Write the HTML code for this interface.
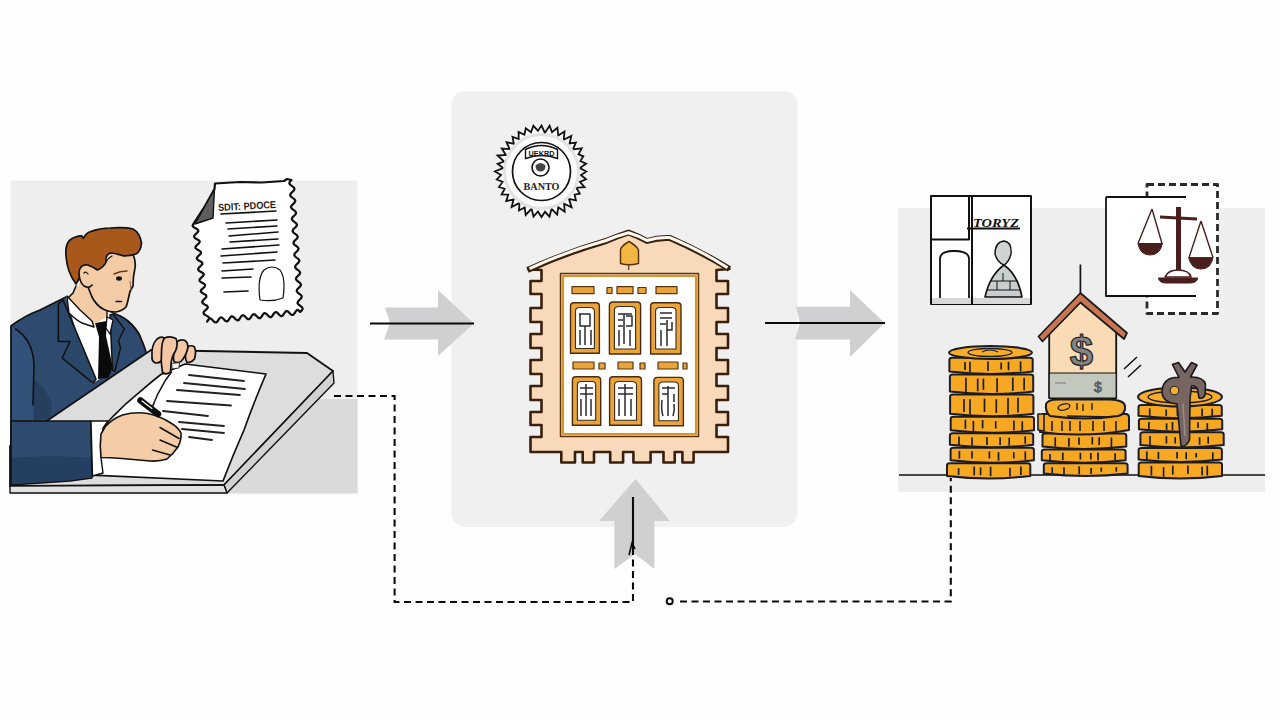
<!DOCTYPE html>
<html><head><meta charset="utf-8">
<style>
html,body{margin:0;padding:0;background:#fff;width:1280px;height:720px;overflow:hidden;font-family:"Liberation Sans",sans-serif;}
svg{display:block;position:absolute;left:0;top:0}
</style></head><body>
<svg width="1280" height="720" viewBox="0 0 1280 720">
<rect x="0" y="0" width="1280" height="720" fill="#fefefe"/>
<!-- panels -->
<rect x="10.5" y="180.5" width="347" height="314" fill="#eeeeee"/>
<rect x="451.5" y="91" width="346" height="436" rx="14" fill="#f0f0f0"/>
<rect x="898" y="208" width="367" height="284" fill="#eeeeee"/>

<!-- ============ LEFT PANEL ============ -->
<g id="left" stroke-linejoin="round" stroke-linecap="round">
  <!-- darker box right of board -->
  <polygon points="315,399 357.5,399 357.5,493 224,493" fill="#dadada"/>
  <!-- certificate -->
  <g stroke="#111" stroke-width="2.2" fill="#fff">
    <path id="cert" d="M215.0,183.5 L240.0,182.0 L262.0,182.5 L284.0,181.0 L287.0,179.0 L291.5,180.0 L289.9,181.6 L289.3,183.2 L290.1,184.6 L291.9,186.0 L293.7,187.4 L294.5,188.8 L293.9,190.4 L292.3,192.0 L290.7,193.6 L290.1,195.2 L291.0,196.6 L292.8,198.0 L294.6,199.4 L295.3,200.8 L294.7,202.4 L293.1,204.0 L291.5,205.6 L290.9,207.2 L291.8,208.6 L293.6,210.0 L295.4,211.4 L296.1,212.8 L295.5,214.4 L293.8,216.0 L292.3,217.6 L291.8,219.2 L292.7,220.6 L294.5,222.0 L296.2,223.4 L297.0,224.8 L296.3,226.4 L294.6,228.0 L293.1,229.6 L292.6,231.2 L293.5,232.6 L295.3,234.0 L297.1,235.4 L297.8,236.8 L297.1,238.4 L295.4,240.0 L293.9,241.6 L293.4,243.2 L294.3,244.6 L296.2,246.0 L297.9,247.4 L298.6,248.8 L297.8,250.4 L296.2,252.0 L294.7,253.6 L294.2,255.2 L295.2,256.6 L297.0,258.0 L298.8,259.4 L299.4,260.8 L298.6,262.4 L297.0,264.0 L295.5,265.6 L295.1,267.2 L296.0,268.6 L297.9,270.0 L299.6,271.4 L300.2,272.8 L299.4,274.4 L297.8,276.0 L296.3,277.6 L295.9,279.2 L296.9,280.6 L298.8,282.0 L300.4,283.4 L301.0,284.8 L300.2,286.4 L298.6,288.0 L297.1,289.6 L296.7,291.2 L297.7,292.6 L299.6,294.0 L301.3,295.4 L301.8,296.8 L301.0,298.4 L299.3,300.0 L297.9,301.6 L297.5,303.2 L298.6,304.6 L300.5,306.0 L302.1,307.4 L302.7,308.8 L301.8,310.4 L300.1,312.0 L298.8,310.3 L297.3,309.9 L295.9,311.2 L294.5,313.3 L293.2,314.9 L291.7,315.0 L290.0,313.6 L288.3,311.7 L286.7,310.9 L285.3,311.8 L283.9,313.8 L282.6,315.7 L281.1,316.2 L279.5,315.1 L277.8,313.2 L276.2,312.0 L274.7,312.5 L273.3,314.3 L272.0,316.4 L270.6,317.3 L269.0,316.5 L267.3,314.7 L265.6,313.3 L264.1,313.2 L262.7,314.8 L261.4,316.9 L260.0,318.3 L258.5,317.9 L256.8,316.3 L255.1,314.6 L253.5,314.1 L252.1,315.3 L250.8,317.5 L249.4,319.1 L247.9,319.2 L246.3,317.8 L244.6,316.0 L243.0,315.1 L241.5,315.9 L240.2,317.9 L238.9,319.9 L237.4,320.4 L235.8,319.4 L234.1,317.5 L232.4,316.3 L230.9,316.6 L229.6,318.4 L228.3,320.5 L226.8,321.5 L225.2,320.8 L223.6,319.0 L221.9,317.5 L220.4,317.4 L219.0,318.9 L217.7,321.1 L216.3,322.5 L214.7,322.2 L213.0,320.6 L211.4,318.9 L209.8,318.3 L208.4,319.5 L207.1,321.6 L208.8,319.3 L209.2,317.7 L207.8,316.4 L205.5,315.1 L203.7,313.8 L203.6,312.3 L205.0,310.6 L207.0,308.9 L207.9,307.3 L207.1,305.8 L204.9,304.6 L202.8,303.3 L202.1,301.9 L203.1,300.3 L205.0,298.5 L206.4,296.8 L206.2,295.3 L204.3,294.1 L202.0,292.8 L200.7,291.5 L201.2,289.9 L203.1,288.2 L204.8,286.4 L205.1,284.9 L203.7,283.5 L201.3,282.3 L199.6,281.0 L199.6,279.5 L201.1,277.8 L203.0,276.0 L203.8,274.4 L202.9,273.0 L200.7,271.8 L198.7,270.5 L198.0,269.1 L199.1,267.4 L201.1,265.7 L202.4,264.0 L202.1,262.5 L200.1,261.2 L197.9,260.0 L196.7,258.6 L197.3,257.1 L199.1,255.3 L200.8,253.6 L201.0,252.0 L199.5,250.7 L197.2,249.5 L195.5,248.2 L195.5,246.7 L197.1,244.9 L199.0,243.2 L199.8,241.6 L198.8,240.2 L196.5,239.0 L194.5,237.7 L194.0,236.2 L195.2,234.6 L197.1,232.8 L198.4,231.2 L197.9,229.7 L196.0,228.4 L193.7,227.2 L192.6,225.8 L193.3,224.2 L205.0,206.0 L214.5,189.0 L215.0,183.5Z"/>
    <path d="M195,224 L205,206 L214.5,189 L213,218 Z" fill="#5e5e5e" stroke-width="1.4"/>
  </g>
  <g stroke="#111" stroke-width="1.6" fill="none">
    <path d="M221,214 L276,211 M226,223 L277,220 M228,229 L277,226 M229,236 L278,232 M230,242 L278,239 M222,249 L279,245 M221,256 L277,252 M223,263 L275,260 M222,271 L253,269 M222,278 L251,277 M224,292 L248,291"/>
    <path d="M260,300 q-3,-22 4,-30 q8,-6 16,0 q6,8 3,28 q-10,4 -23,2 Z" fill="#fff" stroke-width="1.2"/>
  </g>
  <text x="218" y="209.5" font-family="Liberation Sans" font-weight="bold" font-size="10" textLength="58" lengthAdjust="spacingAndGlyphs" fill="#2a1a14" transform="rotate(-3 246 205)">SDIT: PDOCE</text>

  <!-- suit body -->
  <path d="M11,326 Q24,316 40,310 Q52,304 66,297 L113,313 Q122,316 128,321 Q136,328 140,336 Q144,345 146,352 L152,368 L152,420 L11,486 Z" fill="#2e4b6f" stroke="#111" stroke-width="1.8"/>
  <path d="M12,327 L15.5,329 Q33,340 34,365 L33,420 L12,420 Z" fill="#33527a"/><path d="M34,380 Q45,385 52,405 L50,418 L34,420 Z" fill="#263f5e"/><path d="M15.5,329 Q33,340 34,365 L33,405" fill="none" stroke="#111" stroke-width="1.6"/>
  <!-- shirt -->
  <path d="M66,297 L113,313 L113,370 L92,384 Z" fill="#fff"/>
  <!-- lapels -->
  <path d="M63,300 L58.3,304 L58.3,341.5 L70,341.5 L62.2,358 L93.3,383.3 L96,379 Z" fill="#2b4769" stroke="#111" stroke-width="1.6"/>
  <path d="M110,315 L113,314 L124.4,328.9 L118.6,340.5 L120.5,348.3 L114.7,371.6 L112.5,370 Z" fill="#2b4769" stroke="#111" stroke-width="1.5"/>
  <!-- tie -->
  <path d="M95,323 L107,321 L106,336 L113,368 L108,378 L98,379 L99,337 Z" fill="#0b0b0b"/>
  <!-- neck & face -->
  <path d="M80,283 L73,293 L68,298 L82,312 L94,324 L107,317 L107,311 Q112,312 118,312 Q125,310 127,306 L128.5,298 L130,292 Q132,288 133,286 L133.5,276 L135,267 L133.3,255 L110,253 L92,262 L80,268 Z" fill="#f3cca6"/>
  <path d="M76,286 L73,293 L68,298" stroke="#111" stroke-width="1.6" fill="none"/>
  <path d="M133.3,255 Q136,262 135,268 Q133,276 133,286 L130,291.5 Q129,296 128.5,298 Q127,305 126,307 Q122,311 116,312 Q108,312 103,309 Q96,305 92,297 Q90,292 88,287" stroke="#111" stroke-width="1.7" fill="none"/>
  <path d="M107,311 L107,318" stroke="#111" stroke-width="1.4" fill="none"/>
  <!-- collar -->
  <path d="M67,296 Q68,306 69,313 Q76,320 82,323 L94,327 L92,321 L80,310 Z" fill="#fff" stroke="#111" stroke-width="1.4"/>
  <path d="M107,317 L113,320 L110,334 L106,328 Z" fill="#fff" stroke="#111" stroke-width="1.3"/>
  <!-- hair -->
  <path d="M76,284 Q67,272 66,256 Q65,244 70,240 Q75,236 81.7,235.8 L83.3,238.3 Q86,233 90,231.7 Q100,228 110,228 Q125,227 133,229 Q140,233 141.5,243 Q141,251 136,254 Q130,256 123,255.8 Q115,253 110,253 Q105,255 106,262 Q104,267 97.5,270 Q92,266 87,265 Z" fill="#a9581c" stroke="#111" stroke-width="1.7"/>
  <path d="M106,262 Q108,258 112,256" stroke="#111" stroke-width="1.2" fill="none"/>
  <!-- ear -->
  <path d="M88,265 Q80,264 79,272 Q79,282 84,286 Q89,289 92,285" fill="#f3cca6" stroke="#111" stroke-width="1.6"/>
  <path d="M84,273 Q86,271 88,274" stroke="#111" stroke-width="1.2" fill="none"/>
  <!-- face details -->
  <path d="M114,274 Q120,271 127,271" stroke="#6a3a1a" stroke-width="1.6" fill="none"/>
  <ellipse cx="119" cy="278.5" rx="3" ry="2.2" fill="#111"/>
  <path d="M116,301.5 L121.5,301.5" stroke="#111" stroke-width="1.4"/>
  <path d="M130,281 L131,290" stroke="#9a6a4a" stroke-width="1" fill="none"/>
  <!-- board -->
  <path d="M151,350 L307,353 L333,371 L224,485 L10,486 L10,446 Z" fill="#dddddd" stroke="#111" stroke-width="1.8"/>
  <path d="M333,371 L334,383 L227,493 L224,485 Z" fill="#d2d2d2" stroke="#111" stroke-width="1.4"/>
  <path d="M10,486 L224,485 L227,493 L10,493 Z" fill="#e2e2e2" stroke="#111" stroke-width="1.4"/>
  <!-- paper -->
  <path d="M160.8,374.5 Q150,383 139.6,392.2 Q125,404 113.6,415.8 L105,425.3 L92,475.2 L223,481 Q233,455 244,430 Q254,402 266,374 L185,364 Z" fill="#fff" stroke="#111" stroke-width="1.7"/>
  <path d="M171.5,372 Q165,380 160.8,388.7 Q157,395 155,400.5 L152.6,406.4" fill="none" stroke="#111" stroke-width="1.5"/>
  <g stroke="#222" stroke-width="1.8">
    <path d="M189,375 L244,381 M184,383 L245,389 M177,390 L240,395 M167,401 L231,405.5 M163,411 L208,416 M179,422 L224,426 M182,429 L224,433 M189,437 L212,440"/>
  </g>
  <!-- sleeve -->
  <path d="M11,421 L91,421 L92,478 L70,481 L11,485 Z" fill="#2e4b6f" stroke="#111" stroke-width="1.6"/>
  <path d="M12,458 Q40,455 80,457 L91,458 L91.5,477 L70,480 L12,484 Z" fill="#243f62"/>
  <!-- cuff -->
  <path d="M91,421 L108,421 L103,428 L101,458 L103,473 L92.5,476 Z" fill="#fff" stroke="#111" stroke-width="1.4"/>
  <!-- writing hand -->
  <path d="M105,427 Q112,419 122.5,415 Q135,411.5 147.5,413.5 Q160,416 170,422.5 Q178,427 181,433 Q181.5,440 178,447 Q173,454 167,459 Q160,461.5 150,461 L122,458.5 Q110,457.5 101,457.5 Q99.5,446 101,434 Z" fill="#f4cca6" stroke="#111" stroke-width="1.6"/>
  <path d="M160,427.5 L179,438.5 M160,440 L177.5,447.5 M152.5,450 L170,455" stroke="#111" stroke-width="1.5"/>
  <!-- pen -->
  <path d="M140.5,400.5 L158,414" stroke="#0c0c0c" stroke-width="6.5" stroke-linecap="round"/><path d="M142,401 L152,408.5" stroke="#fff" stroke-width="1.2" stroke-linecap="round"/>
  <!-- left hand on paper -->
  <g fill="#f3c6a4" stroke="#111" stroke-width="1.7">
    <path d="M187.7,347 Q191,344.5 194.5,347 Q196.5,352 194.5,359 Q191,363 187,362.5 Q184.5,358 186,352 Z"/>
    <path d="M176.8,342 Q180,339 184.5,340.3 Q188.5,342.5 187.7,348.5 Q186,356 181,361.5 Q177,363.5 174,361.5 Q172.5,356 175,350 Z"/>
    <path d="M152,357 Q151,345 157,339 Q161,336 164,338 Q165.5,345 162.5,352 L161.5,361 Q157.5,364 154.5,362.5 Q151.5,360.5 152,357 Z"/>
    <path d="M164.6,338 Q170,335.5 176,338.5 Q178.5,344 175.5,351 Q171.5,357 171,364 L170.5,372 Q166,375.5 162.5,372.5 Q160.5,362 161.5,352 Q161.5,342 164.6,338 Z"/>
  </g>
  <path d="M172,363.5 L179.5,362.5 L179,368 L172.5,369 Z" fill="#f6efe4" stroke="#111" stroke-width="0.8"/>
</g>

<!-- ============ ARROWS ============ -->
<g fill="#cfd0d2">
  <path d="M385,307.5 L438,307.5 L438,290 L474,323.5 L438,356 L438,339.6 L384,339.6 L390,323 Z"/>
  <path d="M796,306.7 L850,306.7 L850,290 L884.6,323 L850,357 L850,339.6 L795,339.6 L800,323 Z"/>
  <path d="M635.6,479 L670,521 L654.4,521 L654.4,569 L635,554 L614.4,569 L614.4,521 L599,521 Z"/>
</g>
<g stroke="#0a0a0a" stroke-width="2.1" fill="none">
  <path d="M370,323.5 L474,323.5"/>
  <path d="M765,323 L885,323"/>
  <path d="M633,497 L633,551"/>
  <path d="M629,555 L632,543 L635,549" stroke-width="1.6"/>
</g>
<g stroke="#0a0a0a" stroke-width="2.1" fill="none" stroke-dasharray="7,4.5">
  <path d="M334,396 L394.6,396 L394.6,602 L633,602 L633,551"/>
  <path d="M680,601.5 L950.8,601.5 L950.8,478"/>
</g>
<circle cx="669.7" cy="601.3" r="3" fill="none" stroke="#0a0a0a" stroke-width="2"/>

<!-- ============ CENTER PANEL ============ -->
<g id="center">
  <!-- seal -->
  <g transform="translate(541.5,171.5)">
    <path id="saw" d="M44.8,0.0 L39.5,3.5 L44.5,7.8 L38.4,10.3 L43.1,15.7 L34.8,16.2 L38.3,22.1 L33.1,23.2 L34.4,28.8 L27.4,27.4 L30.1,35.8 L22.6,32.3 L23.2,40.2 L16.7,35.7 L15.7,43.1 L10.0,37.3 L8.0,45.2 L3.5,40.3 L0.0,45.6 L-3.5,40.0 L-8.0,45.2 L-9.9,37.1 L-15.8,43.4 L-16.8,36.0 L-22.5,39.0 L-22.0,31.4 L-29.9,35.6 L-27.9,27.9 L-35.3,29.6 L-33.2,23.2 L-39.9,23.0 L-36.8,17.2 L-42.5,15.5 L-38.9,10.4 L-44.7,7.9 L-40.5,3.5 L-46.5,0.0 L-38.3,-3.4 L-43.9,-7.7 L-37.4,-10.0 L-43.9,-16.0 L-35.6,-16.6 L-39.7,-22.9 L-31.9,-22.4 L-34.9,-29.3 L-27.7,-27.7 L-29.0,-34.6 L-22.8,-32.5 L-22.9,-39.6 L-17.1,-36.8 L-15.7,-43.2 L-10.5,-39.2 L-8.1,-45.7 L-3.6,-40.6 L-0.0,-45.9 L3.4,-38.5 L8.1,-45.7 L10.5,-39.3 L15.9,-43.7 L16.8,-36.0 L23.0,-39.9 L22.2,-31.7 L29.8,-35.5 L28.1,-28.1 L34.4,-28.9 L31.4,-22.0 L40.2,-23.2 L37.0,-17.2 L41.8,-15.2 L38.9,-10.4 L44.6,-7.9 L38.4,-3.4Z" fill="#fafafa" stroke="#111" stroke-width="1.8"/>
    <circle r="37" fill="none" stroke="#e2e2e2" stroke-width="3"/>
    <circle r="29" fill="#fff" stroke="#111" stroke-width="1.7"/>
    <path d="M-16,-13 L-16,-22 Q0,-30 16,-22 L16,-13 Q0,-19 -16,-13 Z" fill="#fff" stroke="#111" stroke-width="1.4"/>
    <text x="0" y="-16" text-anchor="middle" font-family="Liberation Sans" font-size="7" font-weight="bold" fill="#111" textLength="26" lengthAdjust="spacingAndGlyphs">UEKRD</text>
    <circle cx="-1" cy="-4" r="8.5" fill="#fff" stroke="#111" stroke-width="1.6"/>
    <path d="M-6,-6 Q-1,-11 4,-6 Q4,0 -1,0 Q-6,0 -6,-6 Z" fill="#444"/>
    <text x="0" y="18" text-anchor="middle" font-family="Liberation Serif" font-size="11" font-weight="bold" fill="#222" textLength="36" lengthAdjust="spacingAndGlyphs">BANTO</text>
  </g>
  <!-- building -->
  <g stroke-linejoin="round">
    <path id="bldg" d="M528.5,269.5 L541.5,270.0 L541.5,281.0 L530.5,281.0 L530.5,294.0 L541.5,294.0 L541.5,308.0 L530.5,308.0 L530.5,322.0 L541.5,322.0 L541.5,334.0 L530.5,334.0 L530.5,348.0 L541.5,348.0 L541.5,360.0 L530.5,360.0 L530.5,374.0 L541.5,374.0 L541.5,386.0 L530.5,386.0 L530.5,400.0 L541.5,400.0 L541.5,412.0 L530.5,412.0 L530.5,425.0 L541.5,425.0 L541.5,437.0 L530.5,437.0 L530.5,452.0 L561.3,452.0 L561.3,462.5 L575.0,462.5 L575.0,452.0 L582.7,452.0 L582.7,462.5 L594.0,462.5 L594.0,452.0 L610.2,452.0 L610.2,462.5 L623.1,462.5 L623.1,452.0 L633.4,452.0 L633.4,462.5 L650.6,462.5 L650.6,452.0 L663.5,452.0 L663.5,462.5 L674.7,462.5 L674.7,452.0 L682.4,452.0 L682.4,462.5 L693.6,462.5 L693.6,452.0 L728.0,452.0 L728.0,437.0 L716.5,437.0 L716.5,425.0 L728.0,425.0 L728.0,412.0 L716.5,412.0 L716.5,400.0 L728.0,400.0 L728.0,386.0 L716.5,386.0 L716.5,374.0 L728.0,374.0 L728.0,360.0 L716.5,360.0 L716.5,348.0 L728.0,348.0 L728.0,334.0 L716.5,334.0 L716.5,322.0 L728.0,322.0 L728.0,308.0 L716.5,308.0 L716.5,294.0 L728.0,294.0 L728.0,281.0 L716.5,281.0 L716.5,270.0 L729.5,269.0 Q702,252 670,238 Q658,237.5 647,241 Q638,236 628.5,232.5 Q618,236 606,241 Q565,253 528.5,269.5 Z" fill="#f8dabb" stroke="#3a200c" stroke-width="2.6"/>
    <path d="M527.5,270 Q565,253 606,241 Q618,236 628.5,232.5 Q638,236 647,241 Q658,237.5 670,238 Q702,252 729.5,269" fill="none" stroke="#3a200c" stroke-width="6"/>
    <path d="M529.5,268.6 Q565,252 606,240.5 Q618,235.6 628.5,232.8 Q638,235.6 647,240.5 Q658,237 670,237.6 Q702,251 727.5,267.8" fill="none" stroke="#fffaf2" stroke-width="3"/>
    <rect x="560.5" y="273.5" width="138" height="163" fill="#f6d6b6" stroke="#5a3410" stroke-width="1.5"/>
    <rect x="563" y="276" width="133" height="158" fill="#fff" stroke="#d8962e" stroke-width="2.2"/>
    <path d="M620.5,263.5 L620.5,250 Q621,246 629,241.5 Q637,246 638.5,250 L638.5,263.5 Q629,266 620.5,263.5 Z" fill="#f3b642" stroke="#5a3410" stroke-width="1.5"/>
    <path d="M629,264 L628.5,270" stroke="#5a3410" stroke-width="1.2"/>
    <g fill="#e9a43a" stroke="#5a3410" stroke-width="1.2">
      <rect x="572" y="286.7" width="22" height="7"/><rect x="607" y="287.5" width="5" height="6"/><rect x="617" y="286.7" width="16" height="7"/><rect x="638" y="287.5" width="8" height="6"/><rect x="656" y="286.7" width="21" height="7"/>
      <rect x="573" y="362" width="21" height="7"/><rect x="599" y="363" width="6" height="6"/><rect x="618" y="362" width="15" height="7"/><rect x="640" y="363" width="5" height="6"/><rect x="658" y="362" width="20" height="7"/><rect x="683" y="363" width="4" height="6"/>
    </g>
    <g fill="#eaa53a" stroke="#4a2a10" stroke-width="1.4">
      <path d="M570.5,353.3 L570.5,306 Q570.5,302.8 574,302.8 L596,302.8 Q599.4,302.8 599.4,306 L599.4,353.3 Z"/>
      <path d="M609.4,354 L609.4,305.5 Q609.4,302 613,302 L637,302 Q640.6,302 640.6,305.5 L640.6,354 Z"/>
      <path d="M650.6,354 L650.6,306 Q650.6,302.8 654,302.8 L677.5,302.8 Q681,302.8 681,306 L681,354 Z"/>
      <path d="M572.4,425.2 L572.4,380.5 Q572.4,376.8 576,376.8 L597,376.8 Q600.7,376.8 600.7,380.5 L600.7,425.2 Z"/>
      <path d="M609.6,425.2 L609.6,380.5 Q609.6,376.8 613,376.8 L638,376.8 Q641.5,376.8 641.5,380.5 L641.5,425.2 Z"/>
      <path d="M653.9,425.8 L653.9,381 Q653.9,377.4 657.5,377.4 L680,377.4 Q683.4,377.4 683.4,381 L683.4,425.8 Z"/>
    </g>
    <g fill="#fff" stroke="#3a2a1a" stroke-width="1.1">
      <path d="M575.5,348.5 L575.5,311 Q575.5,307.5 580,307.5 L590,307.5 Q594.4,307.5 594.4,311 L594.4,348.5 Z"/>
      <path d="M614.4,349 L614.4,310 Q614.4,306.5 619,306.5 L631,306.5 Q635.6,306.5 635.6,310 L635.6,349 Z"/>
      <path d="M655.6,349 L655.6,311 Q655.6,307.5 660,307.5 L672,307.5 Q676,307.5 676,311 L676,349 Z"/>
      <path d="M577.4,420.2 L577.4,385 Q577.4,381.5 581,381.5 L592,381.5 Q595.7,381.5 595.7,385 L595.7,420.2 Z"/>
      <path d="M614.6,420.2 L614.6,385 Q614.6,381.5 619,381.5 L632,381.5 Q636.5,381.5 636.5,385 L636.5,420.2 Z"/>
      <path d="M658.9,420.8 L658.9,385.5 Q658.9,382 663,382 L674.5,382 Q678.4,382 678.4,385.5 L678.4,420.8 Z"/>
    </g>
    <g stroke="#2a2a33" stroke-width="1.5" fill="none">
      <path d="M579,314 L590,314 M580,314 L580,326 L590,326 L590,314 M585,326 L585,345 M580,330 L580,345 M591,330 L591,345"/>
      <path d="M618,314 L632,314 M624,314 L624,344 M618,320 L623,320 M618,326 L623,326 M626,316 L632,316 L632,326 L626,326 M619,330 L619,346 M630,330 L630,346"/>
      <path d="M660,313 L672,313 M660,318 L672,318 M660,324 L666,324 M667,320 L667,346 M661,330 L661,346 M672,322 L672,330 L667,330"/>
      <path d="M580,388 L593,388 M580,394 L593,394 M586,384 L586,416 M581,399 L581,416 M591,399 L591,416"/>
      <path d="M618,388 L633,388 M618,394 L633,394 M625,384 L625,416 M619,399 L619,416 M631,399 L631,416"/>
      <path d="M662,388 L675,388 M662,394 L668,394 M668,386 L668,416 M662,400 Q661,410 663,416 M674,394 L674,402 M674,404 Q675,410 673,416"/>
    </g>
  </g>
</g>

<!-- ============ RIGHT PANEL ============ -->
<g id="right" stroke-linejoin="round">
  <!-- shop frame -->
  <rect x="931" y="196" width="100" height="108" fill="#fff" stroke="#111" stroke-width="2"/>
  <rect x="932" y="298" width="98" height="6" fill="#d8d8d8"/>
  <path d="M969,196 L969,239.5 L932,239.5 M972,196 L972,304" stroke="#111" stroke-width="2" fill="none"/>
  <path d="M940,298 L940,258 Q941,251 954,251 Q968,251 969,258 L969,298" fill="#fff" stroke="#111" stroke-width="1.8"/>
  <path d="M967,228.5 L1020,228.5" stroke="#111" stroke-width="2"/>
  <text x="973" y="226.5" font-family="Liberation Serif" font-weight="bold" font-style="italic" font-size="12" textLength="46" lengthAdjust="spacingAndGlyphs" fill="#111">TORYZ</text>
  <path d="M985,297 Q990,275 1004,265 Q1018,275 1022,297 Z" fill="#c9cfcf" stroke="#111" stroke-width="1.6"/>
  <path d="M995,254 Q995,242 1004,241 Q1012,242 1011,254 Q1009,262 1004,265 Q997,262 995,254 Z" fill="#cfd3d3" stroke="#111" stroke-width="1.4"/>
  <path d="M991,281 L1018,281 M987,290 L1021,290 M1003,273 L1003,281 M997,281 L997,290 M1010,281 L1010,290" stroke="#111" stroke-width="1"/>
  <!-- scales frames -->
  <rect x="1147" y="184.5" width="70.5" height="129" fill="#fff" stroke="#2a2a2a" stroke-width="2.8" stroke-dasharray="7,4"/>
  <rect x="1106" y="197" width="90" height="99" fill="#fff"/>
  <path d="M1106,197 L1186,197 M1106,197 L1106,296 L1196,296" stroke="#111" stroke-width="1.8" fill="none"/>
  <g fill="#4a1e1c" stroke="#4a1e1c">
    <path d="M1176,207 L1181,207 L1181,272 L1176,272 Z" stroke-width="0"/>
    <path d="M1160,217 L1197,219" stroke-width="3"/>
    <path d="M1152,209 L1138,243.5 M1152,209 L1162,243.5" stroke-width="1.4" fill="none"/>
    <path d="M1138,243.5 L1162.5,243.5 Q1160,255 1150,255 Q1140,255 1138,243.5 Z"/>
    <path d="M1201,221 L1189,257.6 M1201,221 L1213,257.6" stroke-width="1.4" fill="none"/>
    <path d="M1188.7,257.6 L1213,257.6 Q1211,269 1201,269 Q1191,269 1188.7,257.6 Z"/>
    <path d="M1165,277 Q1168,270 1178,270 Q1189,270 1191,277 Z" fill="#fff" stroke-width="1.6"/>
    <path d="M1158.5,278 L1197.8,278 Q1197,283 1190,283 L1166,283 Q1159,283 1158.5,278 Z"/>
  </g>
  <!-- ground -->
  <path d="M899,475 L1265,475" stroke="#111" stroke-width="1.6"/>
  <!-- coin stacks (generated) -->
  <!-- house -->
  <path d="M1080.4,264.5 L1080.4,296" stroke="#111" stroke-width="1.7"/>
  <path d="M1049.2,333 L1080.4,302 L1116.2,331 L1116.2,398 L1049.2,398 Z" fill="#f9dbb6" stroke="#111" stroke-width="1.8"/>
  <rect x="1049.2" y="373" width="67" height="25" fill="#c3c8be" stroke="#111" stroke-width="1.2"/>
  <path d="M1055,383 L1066,383" stroke="#777" stroke-width="1"/>
  <text x="1098" y="392" text-anchor="middle" font-family="Liberation Sans" font-size="14" fill="#888" stroke="#444" stroke-width="0.6">$</text>
  <path d="M1038.5,336.5 L1080.4,293 L1127,333 L1124,339 L1080.4,302.5 L1042.5,341.5 Z" fill="#c97551" stroke="#1a1a1a" stroke-width="1.7"/>
  <text x="1081.5" y="366" text-anchor="middle" font-family="Liberation Sans" font-weight="bold" font-size="42" fill="#858585" stroke="#2a2a2a" stroke-width="1.3">$</text>
  <path d="M1124,369 L1137,357 M1128,377 L1141,365" stroke="#111" stroke-width="1.5"/>
  <g id="coins"><path d="M947.0,465.3 Q947.0,463.3 950.0,463.3 L1027.3,463.3 Q1030.3,463.3 1030.3,465.3 L1030.3,475.9 Q988.7,480.9 947.0,475.9 Z" fill="#f6a822" stroke="#1c1c26" stroke-width="2.0"/>
<path d="M958.6,468.2 L958.6,475.0" stroke="#1c1c26" stroke-width="1.7"/>
<path d="M974.2,466.5 L974.2,475.5" stroke="#1c1c26" stroke-width="1.7"/>
<path d="M980.6,467.4 L980.6,475.2" stroke="#1c1c26" stroke-width="1.7"/>
<path d="M990.6,466.7 L990.6,476.1" stroke="#1c1c26" stroke-width="1.7"/>
<path d="M1010.0,467.8 L1010.0,476.4" stroke="#1c1c26" stroke-width="1.7"/>
<path d="M1020.9,466.6 L1020.9,475.0" stroke="#1c1c26" stroke-width="1.7"/>
<path d="M950.6,449.8 Q950.6,447.8 953.6,447.8 L1030.9,447.8 Q1033.9,447.8 1033.9,449.8 L1033.9,460.3 Q992.2,465.3 950.6,460.3 Z" fill="#f6a822" stroke="#1c1c26" stroke-width="2.0"/>
<path d="M959.4,450.8 L959.4,458.7" stroke="#1c1c26" stroke-width="1.7"/>
<path d="M972.0,451.2 L972.0,458.4" stroke="#1c1c26" stroke-width="1.7"/>
<path d="M989.4,451.4 L989.4,458.4" stroke="#1c1c26" stroke-width="1.7"/>
<path d="M998.5,452.2 L998.5,460.7" stroke="#1c1c26" stroke-width="1.7"/>
<path d="M1013.8,452.2 L1013.8,458.4" stroke="#1c1c26" stroke-width="1.7"/>
<path d="M1025.3,451.4 L1025.3,460.2" stroke="#1c1c26" stroke-width="1.7"/>
<path d="M949.9,435.3 Q949.9,433.3 952.9,433.3 L1030.2,433.3 Q1033.2,433.3 1033.2,435.3 L1033.2,444.8 Q991.5,449.8 949.9,444.8 Z" fill="#f6a822" stroke="#1c1c26" stroke-width="2.0"/>
<path d="M959.0,436.6 L959.0,445.6" stroke="#1c1c26" stroke-width="1.7"/>
<path d="M972.0,437.5 L972.0,445.8" stroke="#1c1c26" stroke-width="1.7"/>
<path d="M987.0,437.0 L987.0,444.9" stroke="#1c1c26" stroke-width="1.7"/>
<path d="M1000.1,437.3 L1000.1,444.9" stroke="#1c1c26" stroke-width="1.7"/>
<path d="M1009.2,437.7 L1009.2,445.6" stroke="#1c1c26" stroke-width="1.7"/>
<path d="M1025.2,436.3 L1025.2,443.6" stroke="#1c1c26" stroke-width="1.7"/>
<path d="M950.7,418.7 Q950.7,416.7 953.7,416.7 L1031.0,416.7 Q1034.0,416.7 1034.0,418.7 L1034.0,430.3 Q992.3,435.3 950.7,430.3 Z" fill="#f6a822" stroke="#1c1c26" stroke-width="2.0"/>
<path d="M965.4,419.7 L965.4,428.9" stroke="#1c1c26" stroke-width="1.7"/>
<path d="M973.4,420.9 L973.4,431.3" stroke="#1c1c26" stroke-width="1.7"/>
<path d="M982.6,420.1 L982.6,428.4" stroke="#1c1c26" stroke-width="1.7"/>
<path d="M995.7,421.2 L995.7,428.5" stroke="#1c1c26" stroke-width="1.7"/>
<path d="M1013.9,420.4 L1013.9,430.2" stroke="#1c1c26" stroke-width="1.7"/>
<path d="M1022.3,421.3 L1022.3,431.0" stroke="#1c1c26" stroke-width="1.7"/>
<path d="M950.1,396.4 Q950.1,394.4 953.1,394.4 L1030.4,394.4 Q1033.4,394.4 1033.4,396.4 L1033.4,413.7 Q991.7,418.7 950.1,413.7 Z" fill="#f6a822" stroke="#1c1c26" stroke-width="2.0"/>
<path d="M964.0,399.0 L964.0,412.1" stroke="#1c1c26" stroke-width="1.7"/>
<path d="M970.0,399.3 L970.0,414.4" stroke="#1c1c26" stroke-width="1.7"/>
<path d="M984.5,398.6 L984.5,411.9" stroke="#1c1c26" stroke-width="1.7"/>
<path d="M996.3,399.2 L996.3,413.1" stroke="#1c1c26" stroke-width="1.7"/>
<path d="M1008.0,398.0 L1008.0,414.2" stroke="#1c1c26" stroke-width="1.7"/>
<path d="M1018.0,397.7 L1018.0,412.6" stroke="#1c1c26" stroke-width="1.7"/>
<path d="M949.9,376.4 Q949.9,374.4 952.9,374.4 L1030.2,374.4 Q1033.2,374.4 1033.2,376.4 L1033.2,391.4 Q991.5,396.4 949.9,391.4 Z" fill="#f6a822" stroke="#1c1c26" stroke-width="2.0"/>
<path d="M965.9,377.7 L965.9,392.3" stroke="#1c1c26" stroke-width="1.7"/>
<path d="M977.7,378.5 L977.7,391.2" stroke="#1c1c26" stroke-width="1.7"/>
<path d="M983.4,378.6 L983.4,389.9" stroke="#1c1c26" stroke-width="1.7"/>
<path d="M997.1,378.2 L997.1,392.2" stroke="#1c1c26" stroke-width="1.7"/>
<path d="M1012.8,377.5 L1012.8,390.9" stroke="#1c1c26" stroke-width="1.7"/>
<path d="M1024.1,377.7 L1024.1,390.2" stroke="#1c1c26" stroke-width="1.7"/>
<path d="M949.4,359.8 Q949.4,357.8 952.4,357.8 L1029.7,357.8 Q1032.7,357.8 1032.7,359.8 L1032.7,371.4 Q991.0,376.4 949.4,371.4 Z" fill="#f6a822" stroke="#1c1c26" stroke-width="2.0"/>
<path d="M965.0,362.1 L965.0,370.0" stroke="#1c1c26" stroke-width="1.7"/>
<path d="M969.9,361.7 L969.9,372.0" stroke="#1c1c26" stroke-width="1.7"/>
<path d="M988.0,361.4 L988.0,371.0" stroke="#1c1c26" stroke-width="1.7"/>
<path d="M1001.2,362.5 L1001.2,369.5" stroke="#1c1c26" stroke-width="1.7"/>
<path d="M1008.5,361.8 L1008.5,370.2" stroke="#1c1c26" stroke-width="1.7"/>
<path d="M1020.6,361.4 L1020.6,371.2" stroke="#1c1c26" stroke-width="1.7"/>
<ellipse cx="990.5" cy="352.5" rx="41.5" ry="6.5" fill="#f7ad2a" stroke="#1c1c26" stroke-width="2"/>
<ellipse cx="990" cy="352.5" rx="22" ry="4" fill="none" stroke="#1c1c26" stroke-width="1.3"/>
<path d="M982,352 Q990,348 998,352" fill="none" stroke="#1c1c26" stroke-width="1.2"/>
<path d="M1043.8,465.2 Q1043.8,463.2 1046.8,463.2 L1124.6,463.2 Q1127.6,463.2 1127.6,465.2 L1127.6,473.5 Q1085.7,478.5 1043.8,473.5 Z" fill="#f6a822" stroke="#1c1c26" stroke-width="2.0"/>
<path d="M1052.2,467.3 L1052.2,473.4" stroke="#1c1c26" stroke-width="1.7"/>
<path d="M1064.0,467.2 L1064.0,474.4" stroke="#1c1c26" stroke-width="1.7"/>
<path d="M1079.2,466.3 L1079.2,474.2" stroke="#1c1c26" stroke-width="1.7"/>
<path d="M1091.1,467.9 L1091.1,474.1" stroke="#1c1c26" stroke-width="1.7"/>
<path d="M1101.3,467.5 L1101.3,471.7" stroke="#1c1c26" stroke-width="1.7"/>
<path d="M1116.3,467.0 L1116.3,471.6" stroke="#1c1c26" stroke-width="1.7"/>
<path d="M1041.8,451.4 Q1041.8,449.4 1044.8,449.4 L1122.6,449.4 Q1125.6,449.4 1125.6,451.4 L1125.6,460.2 Q1083.7,465.2 1041.8,460.2 Z" fill="#f6a822" stroke="#1c1c26" stroke-width="2.0"/>
<path d="M1050.0,454.1 L1050.0,460.3" stroke="#1c1c26" stroke-width="1.7"/>
<path d="M1062.8,452.6 L1062.8,460.3" stroke="#1c1c26" stroke-width="1.7"/>
<path d="M1080.4,452.8 L1080.4,459.5" stroke="#1c1c26" stroke-width="1.7"/>
<path d="M1090.9,453.1 L1090.9,459.6" stroke="#1c1c26" stroke-width="1.7"/>
<path d="M1098.0,452.5 L1098.0,460.6" stroke="#1c1c26" stroke-width="1.7"/>
<path d="M1115.1,453.3 L1115.1,460.3" stroke="#1c1c26" stroke-width="1.7"/>
<path d="M1042.5,435.5 Q1042.5,433.5 1045.5,433.5 L1123.3,433.5 Q1126.3,433.5 1126.3,435.5 L1126.3,446.4 Q1084.4,451.4 1042.5,446.4 Z" fill="#f6a822" stroke="#1c1c26" stroke-width="2.0"/>
<path d="M1055.2,437.4 L1055.2,446.5" stroke="#1c1c26" stroke-width="1.7"/>
<path d="M1068.9,437.9 L1068.9,446.7" stroke="#1c1c26" stroke-width="1.7"/>
<path d="M1079.0,437.6 L1079.0,444.8" stroke="#1c1c26" stroke-width="1.7"/>
<path d="M1092.3,437.1 L1092.3,444.5" stroke="#1c1c26" stroke-width="1.7"/>
<path d="M1099.2,437.3 L1099.2,445.1" stroke="#1c1c26" stroke-width="1.7"/>
<path d="M1111.4,437.5 L1111.4,447.3" stroke="#1c1c26" stroke-width="1.7"/>
<path d="M1040,418 Q1040,414 1044,414 L1126,414 Q1129,414 1129,418 L1129,430 Q1085,438 1040,432 Z" fill="#f6a822" stroke="#1c1c26" stroke-width="2"/>
<path d="M1038,414 L1044,414 L1044,431 L1038,430 Z" fill="#f6a822" stroke="#1c1c26" stroke-width="1.6"/>
<path d="M1046,404 Q1048,399 1060,399.5 L1110,399.5 Q1124,400 1125,406 Q1126,414 1118,416 Q1085,421 1050,416 Q1045,412 1046,404 Z" fill="#f7ad2a" stroke="#1c1c26" stroke-width="2"/>
<path d="M1052,421 L1052,431" stroke="#1c1c26" stroke-width="1.6"/>
<path d="M1062,421 L1062,431" stroke="#1c1c26" stroke-width="1.6"/>
<path d="M1070,421 L1070,431" stroke="#1c1c26" stroke-width="1.6"/>
<path d="M1080,421 L1080,431" stroke="#1c1c26" stroke-width="1.6"/>
<path d="M1093,421 L1093,431" stroke="#1c1c26" stroke-width="1.6"/>
<path d="M1104,421 L1104,431" stroke="#1c1c26" stroke-width="1.6"/>
<path d="M1116,421 L1116,431" stroke="#1c1c26" stroke-width="1.6"/>
<ellipse cx="1064" cy="407" rx="6" ry="3" fill="none" stroke="#1c1c26" stroke-width="1.4" transform="rotate(-15 1064 407)"/>
<path d="M1077,403 L1077,410 M1083,404 L1083,411 M1092,403 L1092,410 M1067,416 L1112,417" stroke="#1c1c26" stroke-width="1.4"/>
<path d="M1138.7,464.5 Q1138.7,462.5 1141.7,462.5 L1219.0,462.5 Q1222.0,462.5 1222.0,464.5 L1222.0,476.0 Q1180.4,481.0 1138.7,476.0 Z" fill="#f6a822" stroke="#1c1c26" stroke-width="2.0"/>
<path d="M1151.4,465.9 L1151.4,475.5" stroke="#1c1c26" stroke-width="1.7"/>
<path d="M1163.6,467.1 L1163.6,476.7" stroke="#1c1c26" stroke-width="1.7"/>
<path d="M1172.8,465.7 L1172.8,474.6" stroke="#1c1c26" stroke-width="1.7"/>
<path d="M1187.9,465.6 L1187.9,474.1" stroke="#1c1c26" stroke-width="1.7"/>
<path d="M1202.1,466.8 L1202.1,475.2" stroke="#1c1c26" stroke-width="1.7"/>
<path d="M1207.3,465.5 L1207.3,475.4" stroke="#1c1c26" stroke-width="1.7"/>
<path d="M1138.6,450.0 Q1138.6,448.0 1141.6,448.0 L1218.9,448.0 Q1221.9,448.0 1221.9,450.0 L1221.9,459.5 Q1180.2,464.5 1138.6,459.5 Z" fill="#f6a822" stroke="#1c1c26" stroke-width="2.0"/>
<path d="M1146.8,451.4 L1146.8,459.8" stroke="#1c1c26" stroke-width="1.7"/>
<path d="M1158.4,451.9 L1158.4,459.2" stroke="#1c1c26" stroke-width="1.7"/>
<path d="M1177.1,452.0 L1177.1,458.6" stroke="#1c1c26" stroke-width="1.7"/>
<path d="M1186.2,452.3 L1186.2,459.1" stroke="#1c1c26" stroke-width="1.7"/>
<path d="M1196.2,453.0 L1196.2,457.5" stroke="#1c1c26" stroke-width="1.7"/>
<path d="M1212.8,452.4 L1212.8,459.6" stroke="#1c1c26" stroke-width="1.7"/>
<path d="M1140.4,434.3 Q1140.4,432.3 1143.4,432.3 L1220.7,432.3 Q1223.7,432.3 1223.7,434.3 L1223.7,445.0 Q1182.0,450.0 1140.4,445.0 Z" fill="#f6a822" stroke="#1c1c26" stroke-width="2.0"/>
<path d="M1150.0,435.9 L1150.0,445.8" stroke="#1c1c26" stroke-width="1.7"/>
<path d="M1166.4,436.1 L1166.4,443.5" stroke="#1c1c26" stroke-width="1.7"/>
<path d="M1175.2,437.2 L1175.2,443.5" stroke="#1c1c26" stroke-width="1.7"/>
<path d="M1183.8,435.7 L1183.8,443.3" stroke="#1c1c26" stroke-width="1.7"/>
<path d="M1199.6,437.3 L1199.6,444.8" stroke="#1c1c26" stroke-width="1.7"/>
<path d="M1208.2,436.6 L1208.2,443.7" stroke="#1c1c26" stroke-width="1.7"/>
<path d="M1138.9,420.8 Q1138.9,418.8 1141.9,418.8 L1219.2,418.8 Q1222.2,418.8 1222.2,420.8 L1222.2,429.3 Q1180.6,434.3 1138.9,429.3 Z" fill="#f6a822" stroke="#1c1c26" stroke-width="2.0"/>
<path d="M1148.9,422.0 L1148.9,429.3" stroke="#1c1c26" stroke-width="1.7"/>
<path d="M1166.6,423.3 L1166.6,429.9" stroke="#1c1c26" stroke-width="1.7"/>
<path d="M1172.5,422.0 L1172.5,430.1" stroke="#1c1c26" stroke-width="1.7"/>
<path d="M1189.0,422.2 L1189.0,428.6" stroke="#1c1c26" stroke-width="1.7"/>
<path d="M1198.0,422.2 L1198.0,428.1" stroke="#1c1c26" stroke-width="1.7"/>
<path d="M1207.3,423.1 L1207.3,430.0" stroke="#1c1c26" stroke-width="1.7"/>
<path d="M1138.5,407.0 Q1138.5,405.0 1141.5,405.0 L1218.8,405.0 Q1221.8,405.0 1221.8,407.0 L1221.8,415.8 Q1180.2,420.8 1138.5,415.8 Z" fill="#f6a822" stroke="#1c1c26" stroke-width="2.0"/>
<path d="M1149.7,408.4 L1149.7,416.0" stroke="#1c1c26" stroke-width="1.7"/>
<path d="M1166.2,409.6 L1166.2,415.9" stroke="#1c1c26" stroke-width="1.7"/>
<path d="M1177.4,408.4 L1177.4,415.6" stroke="#1c1c26" stroke-width="1.7"/>
<path d="M1189.1,409.3 L1189.1,416.5" stroke="#1c1c26" stroke-width="1.7"/>
<path d="M1202.1,408.4 L1202.1,416.0" stroke="#1c1c26" stroke-width="1.7"/>
<path d="M1212.2,408.7 L1212.2,415.9" stroke="#1c1c26" stroke-width="1.7"/>
<ellipse cx="1180" cy="397" rx="42" ry="9.5" fill="#f7ad2a" stroke="#1c1c26" stroke-width="2"/>
<ellipse cx="1180" cy="397" rx="32" ry="6" fill="none" stroke="#1c1c26" stroke-width="1.3"/>
<path d="M1172.4,364.5 L1178.5,362.5 L1185,372 L1191.5,362.5 L1197,365 L1190.5,377 Q1203,376.5 1205.5,384 L1205,395 Q1203.5,399 1199,398 L1197.5,389 Q1195,385 1191.5,386 L1190,399 L1189.5,440 Q1186,447.5 1181,446 L1177,404 Q1163.5,403 1162,393 Q1162,379 1175,377.5 L1179,377.5 Z" fill="#766560" stroke="#1a1a1a" stroke-width="1.6"/>
<circle cx="1174.5" cy="390.5" r="4.3" fill="#f6b030" stroke="#1a1a1a" stroke-width="1"/>
<path d="M1183,404 L1185,436" stroke="#9a8a85" stroke-width="1.5"/></g>
</g>
</svg>

</body></html>
